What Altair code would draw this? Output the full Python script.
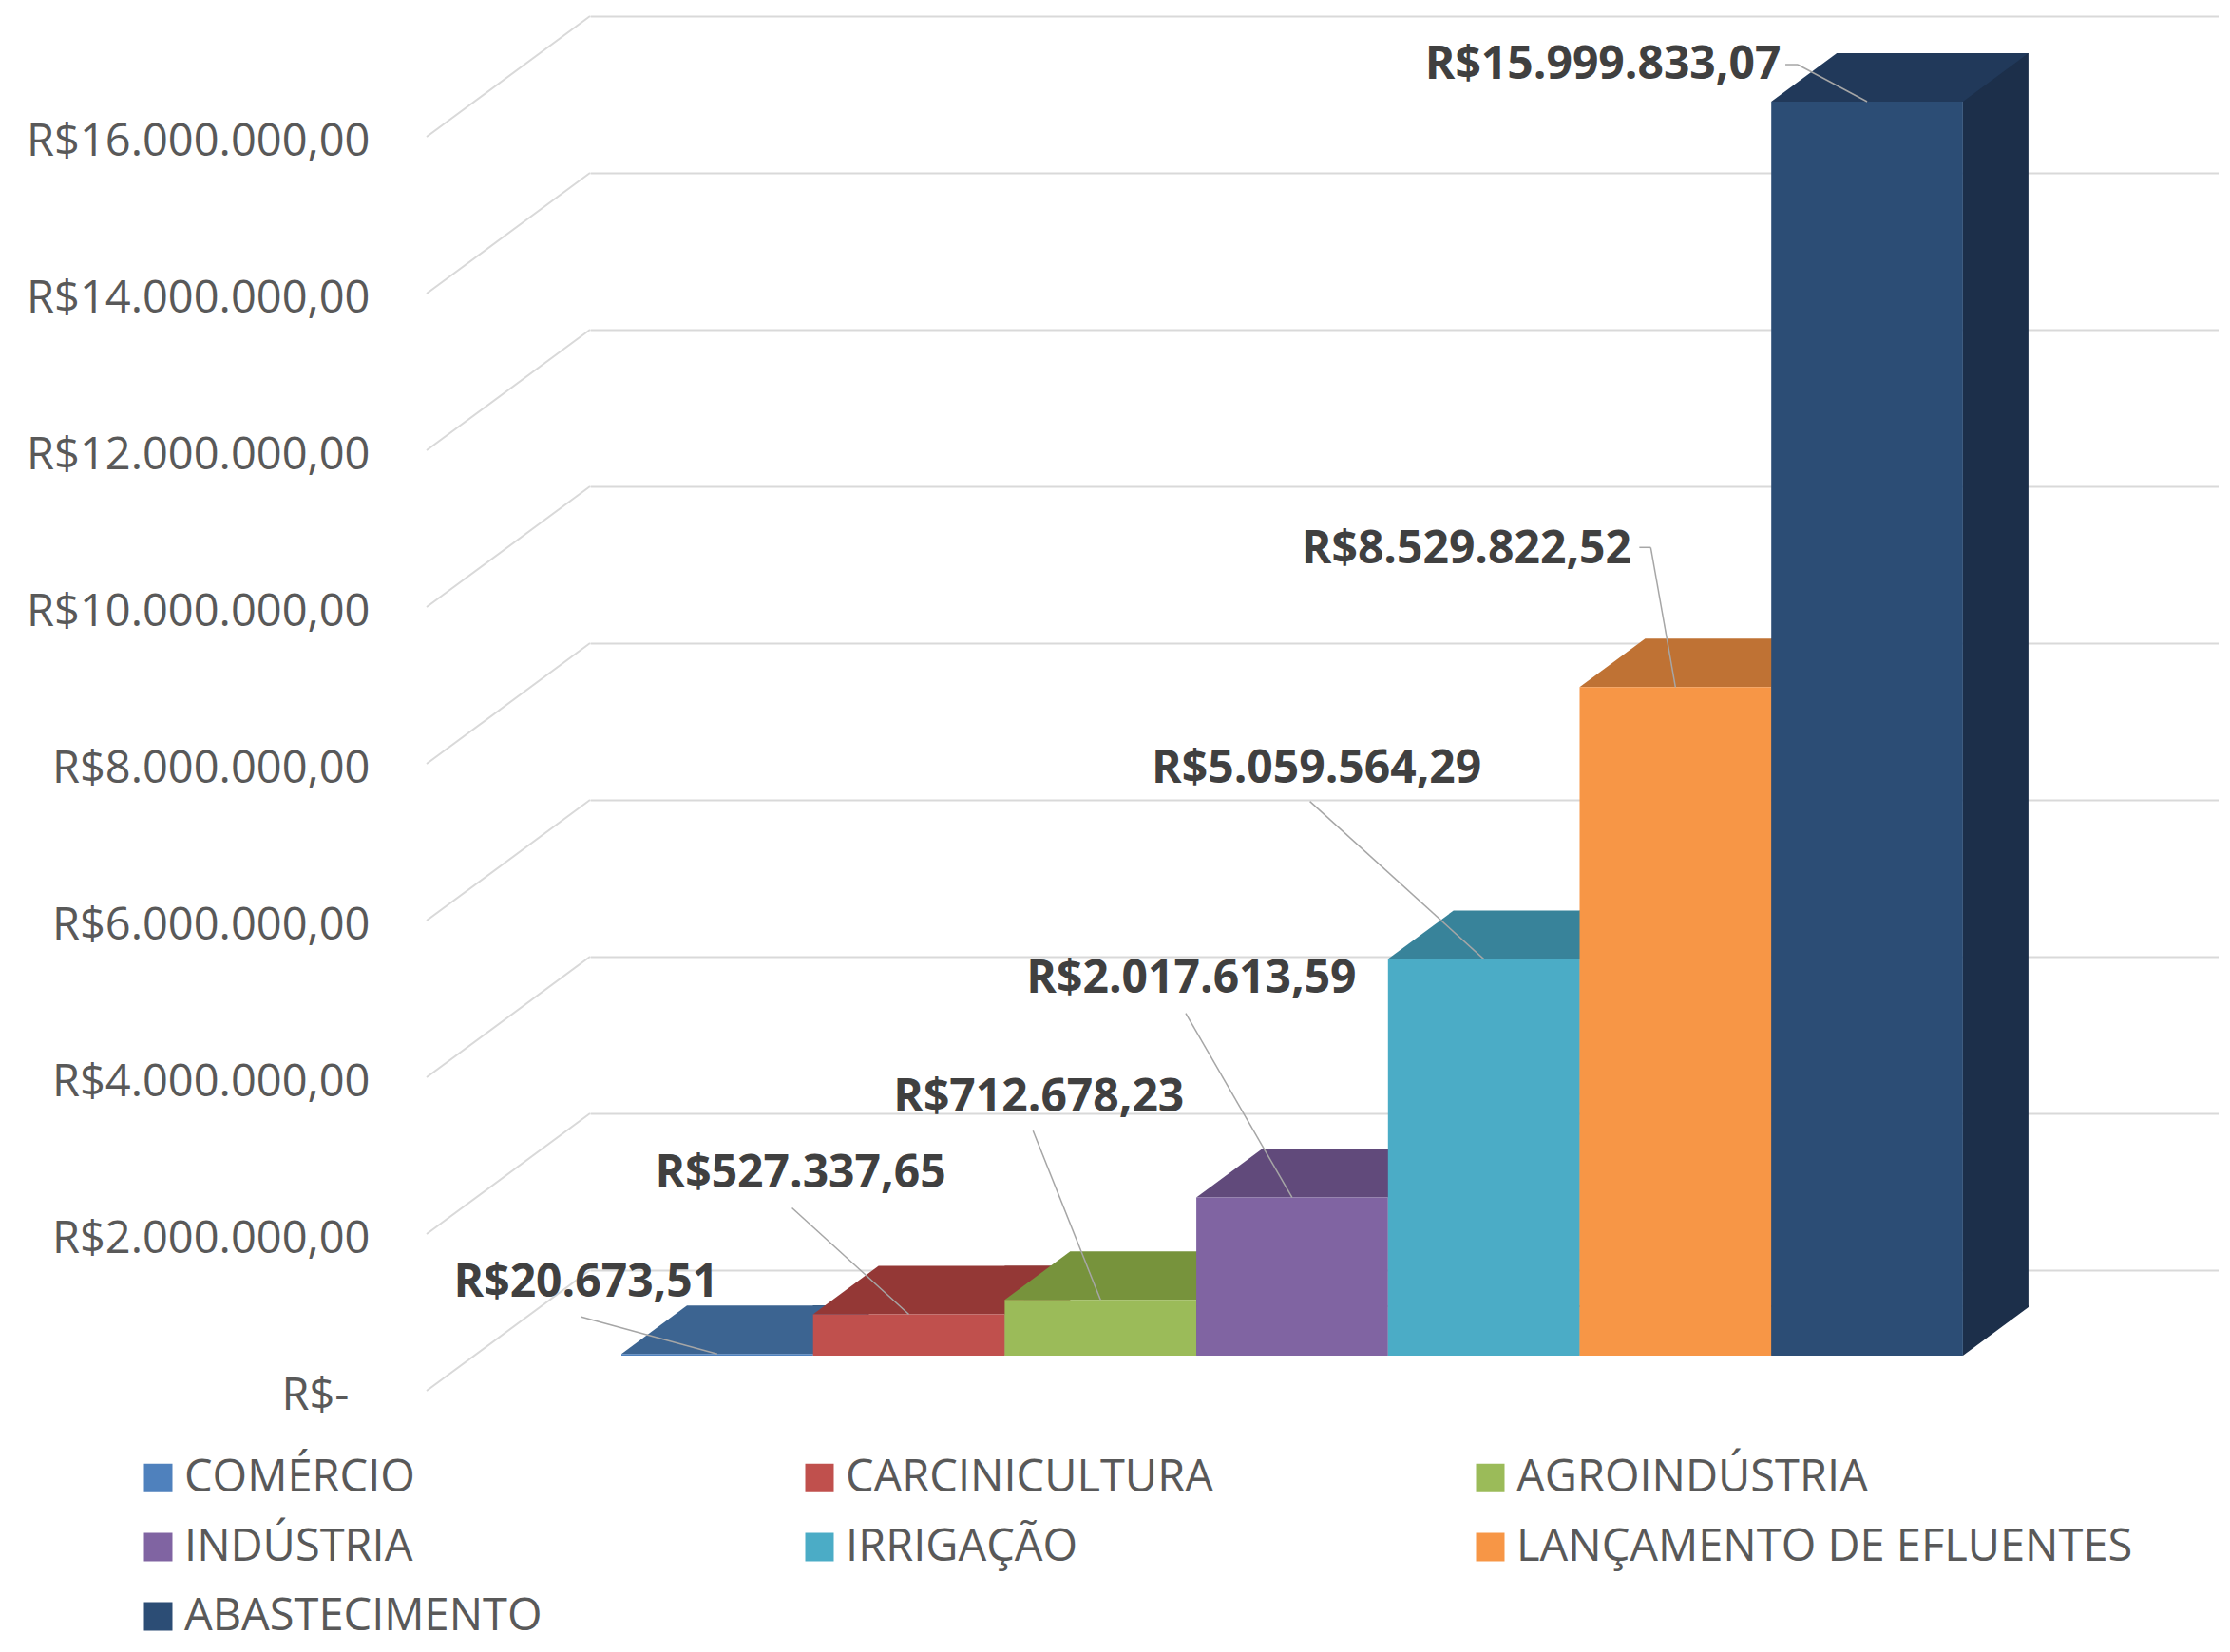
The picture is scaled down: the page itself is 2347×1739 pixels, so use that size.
import altair as alt
import pandas as pd

# ---------------- data ----------------
CATEGORIES = [
    "COMÉRCIO",
    "CARCINICULTURA",
    "AGROINDÚSTRIA",
    "INDÚSTRIA",
    "IRRIGAÇÃO",
    "LANÇAMENTO DE EFLUENTES",
    "ABASTECIMENTO",
]
VALUES = [20673.51, 527337.65, 712678.23, 2017613.59, 5059564.29, 8529822.52, 15999833.07]

Y_TICKS = [0, 2000000, 4000000, 6000000, 8000000, 10000000, 12000000, 14000000, 16000000]
Y_TICK_LABELS = [
    "R$-",
    "R$2.000.000,00",
    "R$4.000.000,00",
    "R$6.000.000,00",
    "R$8.000.000,00",
    "R$10.000.000,00",
    "R$12.000.000,00",
    "R$14.000.000,00",
    "R$16.000.000,00",
]


def brl(v):
    s = f"{v:,.2f}"
    return "R$" + s.replace(",", "#").replace(".", ",").replace("#", ".")


DATA_LABELS = [brl(v) for v in VALUES]

# ---------------- styles ----------------
FRONT_COLORS = ["#4F81BD", "#C0504D", "#9BBB59", "#8064A2", "#4BACC6", "#F79646", "#2C4D75"]
TOP_COLORS = ["#3C6491", "#943836", "#77933C", "#614A7B", "#38839A", "#BF7234", "#21395A"]
SIDE_COLORS = ["#334F72", "#7A2E2C", "#5F7530", "#4C3B62", "#2D6A7D", "#9A5C29", "#1C2F4A"]

PLOT_W, PLOT_H = 1714, 1320
BAR_PX = 201.7
DEPTH_X, DEPTH_Y = 69, 51
WALL_SHIFT = 90
LABEL_SHIFT = 37
DIAG_X = -172
X_MIN = -33 / BAR_PX
X_MAX = X_MIN + PLOT_W / BAR_PX

# label placement (pixel nudges relative to the top-centre of each bar's front face)
LABEL_LAYOUT = {
    "COMÉRCIO": {"label": (-138, -74), "leader": [(-143, -39)]},
    "CARCINICULTURA": {"label": (-114, -147), "leader": [(-123, -112)]},
    "AGROINDÚSTRIA": {"label": (-65, -212), "leader": [(-71, -178)]},
    "INDÚSTRIA": {"label": (-106, -230), "leader": [(-112, -194)]},
    "IRRIGAÇÃO": {"label": (-176, -200), "leader": [(-183, -166)]},
    "LANÇAMENTO DE EFLUENTES": {"label": (-220, -144), "leader": [(-38, -147), (-26, -147)]},
    "ABASTECIMENTO": {"label": (-278, -38), "leader": [(-86, -39), (-73, -39)]},
}

df = pd.DataFrame({
    "cat": CATEGORIES,
    "value": VALUES,
    "label": DATA_LABELS,
    "idx": list(range(len(CATEGORIES))),
})
ticks_df = pd.DataFrame({"tick": Y_TICKS})

xs = alt.Scale(domain=[X_MIN, X_MAX], nice=False, zero=False)
ys = alt.Scale(domain=[0, 16000000], nice=False, zero=True)

label_expr = " : ".join(
    f"datum.value == {t} ? '{lab}'" for t, lab in zip(Y_TICKS, Y_TICK_LABELS)
) + " : ''"

Y_AXIS = alt.Axis(
    values=Y_TICKS,
    labelExpr=label_expr,
    title=None,
    domain=False,
    ticks=False,
    tickSize=0,
    grid=True,
    gridColor="#D9D9D9",
    gridWidth=2,
    tickOffset=-WALL_SHIFT,
    labelOffset=WALL_SHIFT + LABEL_SHIFT + 5,
    labelPadding={"condition": {"test": "datum.value == 0", "value": 254}, "value": 232},
    labelFont="Open Sans",
    labelFontSize=47,
    labelColor="#595959",
    labelAlign="right",
    labelBaseline="middle",
    labelOverlap=False,
    labelFlush=False,
    labelLimit=800,
)

LEGEND = alt.Legend(
    title=None,
    orient="none",
    direction="horizontal",
    legendX=-478,
    legendY=1425,
    columns=3,
    symbolType="square",
    symbolSize=900,
    symbolStrokeWidth=0,
    labelFont="Open Sans",
    labelFontSize=47,
    labelColor="#595959",
    labelOffset=4,
    columnPadding=268,
    rowPadding=25,
    labelLimit=1000,
    padding=0,
)

base = alt.Chart(df).transform_calculate(
    x1="datum.idx + 1", xc="datum.idx + 0.5", base="0"
)

diag = alt.Chart(ticks_df).mark_rule(
    color="#D9D9D9", strokeWidth=2, yOffset=LABEL_SHIFT, y2Offset=-WALL_SHIFT
).encode(
    x=alt.value(DIAG_X),
    x2=alt.value(0),
    y=alt.Y("tick:Q", scale=ys, axis=None),
    y2="tick:Q",
)

side_rect = base.mark_bar(
    x2Offset=DEPTH_X, yOffset=-DEPTH_Y, y2Offset=-DEPTH_Y
).encode(
    x=alt.X("x1:Q", scale=xs, axis=None),
    x2="x1:Q",
    y=alt.Y("value:Q", scale=ys, axis=None),
    y2="base:Q",
    color=alt.Color("cat:N", scale=alt.Scale(domain=CATEGORIES, range=SIDE_COLORS), legend=None),
)

side_tri = base.mark_point(
    shape=f"M0,0 L0,{-DEPTH_Y - 2} L{DEPTH_X},{-DEPTH_Y - 2} L{DEPTH_X},{-DEPTH_Y} Z",
    size=4, filled=True, opacity=1, strokeWidth=0,
).encode(
    x=alt.X("x1:Q", scale=xs, axis=None),
    y=alt.Y("base:Q", scale=ys, axis=None),
    color=alt.Color("cat:N", scale=alt.Scale(domain=CATEGORIES, range=SIDE_COLORS), legend=None),
)

top = base.mark_point(
    shape=f"M0,0 L{BAR_PX},0 L{BAR_PX + DEPTH_X},{-DEPTH_Y} L{DEPTH_X},{-DEPTH_Y} Z",
    size=4, filled=True, opacity=1, strokeWidth=0,
).encode(
    x=alt.X("idx:Q", scale=xs, axis=None),
    y=alt.Y("value:Q", scale=ys, axis=None),
    color=alt.Color("cat:N", scale=alt.Scale(domain=CATEGORIES, range=TOP_COLORS), legend=None),
)

front = base.mark_bar().encode(
    x=alt.X("idx:Q", scale=xs, axis=None),
    x2="x1:Q",
    y=alt.Y("value:Q", scale=ys, axis=Y_AXIS),
    y2="base:Q",
    color=alt.Color("cat:N", scale=alt.Scale(domain=CATEGORIES, range=FRONT_COLORS), legend=LEGEND),
)

label_layers = []
for cat in CATEGORIES:
    lay = LABEL_LAYOUT[cat]
    sel = base.transform_filter(alt.datum.cat == cat)
    pts = lay["leader"] + [(0, 0)]
    for (ax, ay), (bx, by) in zip(pts[:-1], pts[1:]):
        label_layers.append(
            sel.mark_rule(
                color="#A6A6A6", strokeWidth=1.5,
                xOffset=ax, yOffset=ay, x2Offset=bx, y2Offset=by,
            ).encode(
                x=alt.X("xc:Q", scale=xs, axis=None),
                x2="xc:Q",
                y=alt.Y("value:Q", scale=ys, axis=None),
                y2="value:Q",
            )
        )
    label_layers.append(
        sel.mark_text(
            dx=lay["label"][0], dy=lay["label"][1],
            font="Open Sans", fontSize=48, fontWeight="bold", color="#404040",
            align="center", baseline="middle",
        ).encode(
            x=alt.X("xc:Q", scale=xs, axis=None),
            y=alt.Y("value:Q", scale=ys, axis=None),
            text="label:N",
        )
    )

chart = alt.layer(diag, side_rect, side_tri, top, front, *label_layers).resolve_scale(
    color="independent"
).resolve_axis(
    y="independent"
).properties(
    width=PLOT_W,
    height=PLOT_H,
    autosize=alt.AutoSizeParams(type="none"),
    padding={"left": 613, "top": 99, "right": 0, "bottom": 304},
    background="white",
).configure_view(strokeWidth=0)

chart.save("out.html", embed_options={"renderer": "svg", "actions": False})
